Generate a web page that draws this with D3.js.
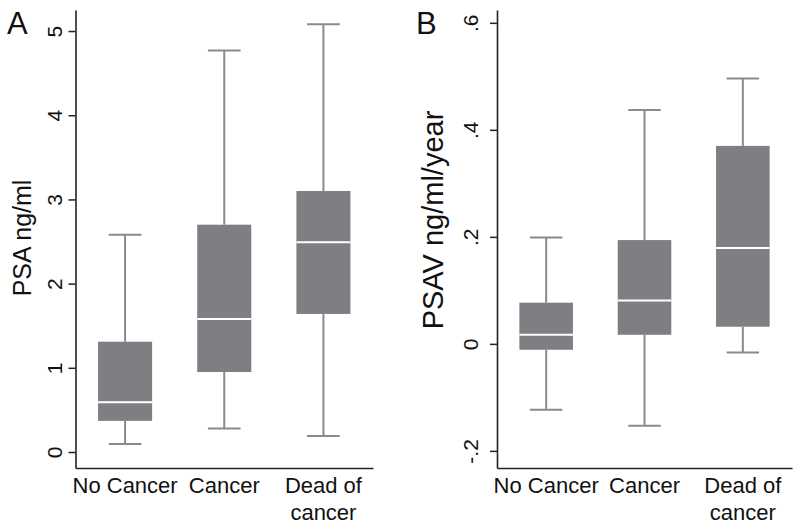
<!DOCTYPE html>
<html><head><meta charset="utf-8">
<script src="https://cdn.jsdelivr.net/npm/d3@7"></script>
<style>body{margin:0;background:#fff;}svg{display:block;font-family:"Liberation Sans",Arial,sans-serif;}</style>
</head><body>
<svg id="chart" width="800" height="529"></svg>
<script>
const categories = ["No Cancer", "Cancer", "Dead of cancer"];
const categoryLines = [["No Cancer"], ["Cancer"], ["Dead of", "cancer"]];
// [lower whisker, Q1, median, Q3, upper whisker]
const psaStats = [
  [0.095, 0.37, 0.59, 1.31, 2.58],
  [0.28, 0.95, 1.58, 2.70, 4.77],
  [0.19, 1.64, 2.49, 3.10, 5.08]
];
const psavStats = [
  [-0.123, -0.011, 0.017, 0.077, 0.199],
  [-0.153, 0.017, 0.081, 0.194, 0.437],
  [-0.016, 0.032, 0.179, 0.370, 0.496]
];
const psaTicks = [0, 1, 2, 3, 4, 5];
const psaTickLabels = ["0", "1", "2", "3", "4", "5"];
const psavTicks = [-0.2, 0, 0.2, 0.4, 0.6];
const psavTickLabels = ["-.2", "0", ".2", ".4", ".6"];

const svg = d3.select("#chart");

function panel(opts) {
  const g = svg.append("g");
  const x = d3.scaleBand().domain(categories).range([opts.x0, opts.x1]).padding(0);
  const y = d3.scaleLinear().domain(opts.domain).range([468, 10]);
  const bw = x.bandwidth();
  const boxW = bw * 0.545, capW = bw * 0.33;
  const fill = "#7f7f83", wc = "#8a8a8d";

  opts.stats.forEach((s, i) => {
    const c = x(categories[i]) + bw / 2;
    g.append("line").attr("x1", c).attr("x2", c).attr("y1", y(s[0])).attr("y2", y(s[1])).attr("stroke", wc).attr("stroke-width", 2);
    g.append("line").attr("x1", c).attr("x2", c).attr("y1", y(s[3])).attr("y2", y(s[4])).attr("stroke", wc).attr("stroke-width", 2);
    g.append("line").attr("x1", c - capW / 2).attr("x2", c + capW / 2).attr("y1", y(s[0])).attr("y2", y(s[0])).attr("stroke", wc).attr("stroke-width", 2);
    g.append("line").attr("x1", c - capW / 2).attr("x2", c + capW / 2).attr("y1", y(s[4])).attr("y2", y(s[4])).attr("stroke", wc).attr("stroke-width", 2);
    g.append("rect").attr("x", c - boxW / 2).attr("width", boxW).attr("y", y(s[3])).attr("height", y(s[1]) - y(s[3])).attr("fill", fill);
    g.append("line").attr("x1", c - boxW / 2).attr("x2", c + boxW / 2).attr("y1", y(s[2])).attr("y2", y(s[2])).attr("stroke", "#fff").attr("stroke-width", 2);
  });

  const ya = g.append("g").attr("transform", `translate(${opts.x0},0)`)
    .call(d3.axisLeft(y).tickValues(opts.ticks).tickSize(7).tickSizeOuter(0).tickPadding(0)
      .tickFormat((d, i) => opts.tickLabels[i]));
  ya.select(".domain").attr("stroke", "#222").attr("stroke-width", 1.6);
  ya.selectAll(".tick line").attr("stroke", "#222").attr("stroke-width", 1.5);
  ya.selectAll(".tick text")
    .attr("transform", "rotate(-90)")
    .attr("x", 0).attr("y", -opts.labelGap).attr("dy", 0)
    .attr("text-anchor", "middle")
    .attr("fill", "#111")
    .style("font-size", "21px")
    .style("font-family", "Liberation Sans, Arial, sans-serif");

  const xa = g.append("g").attr("transform", "translate(0,468)")
    .call(d3.axisBottom(x).tickSize(0).tickFormat(""));
  xa.select(".domain").attr("stroke", "#222").attr("stroke-width", 1.6);
  xa.selectAll(".tick").each(function (d, i) {
    const t = d3.select(this).append("text").attr("text-anchor", "middle").attr("fill", "#111")
      .style("font-size", "22px").style("font-family", "Liberation Sans, Arial, sans-serif");
    categoryLines[i].forEach((ln, j) => {
      t.append("tspan").attr("x", 0).attr("y", 25 + j * 27).text(ln);
    });
  });

  g.append("text").attr("transform", `translate(${opts.titleX},${opts.titleY}) rotate(-90)`)
    .attr("text-anchor", "middle").attr("fill", "#111")
    .style("font-size", opts.titleSize + "px").text(opts.title);

  g.append("text").attr("x", opts.letterX).attr("y", 34).attr("fill", "#111")
    .style("font-size", "31px").text(opts.letter);
}

panel({ x0: 75.5, x1: 373, domain: [-0.19, 5.25], stats: psaStats, ticks: psaTicks, tickLabels: psaTickLabels,
  labelGap: 14, title: "PSA ng/ml", titleX: 31, titleY: 238, titleSize: 25, letter: "A", letterX: 7 });
panel({ x0: 497, x1: 792, domain: [-0.232, 0.624], stats: psavStats, ticks: psavTicks, tickLabels: psavTickLabels,
  labelGap: 19, title: "PSAV ng/ml/year", titleX: 443, titleY: 220, titleSize: 29, letter: "B", letterX: 416 });
</script>
</body></html>
